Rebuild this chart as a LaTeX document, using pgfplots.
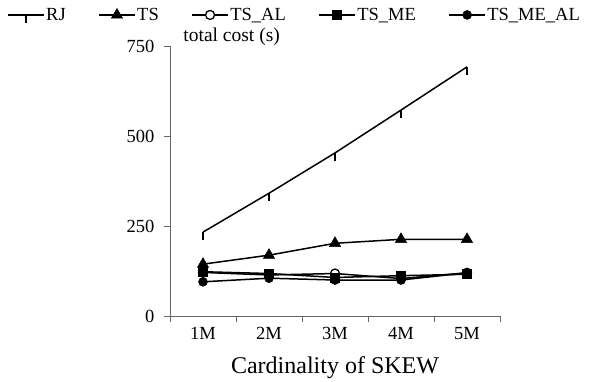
\documentclass[border=0pt]{standalone}
\usepackage{pgfplots}
\pgfplotsset{compat=1.18}
\usepackage{fontspec}
\setmainfont{Liberation Serif}
\pgfdeclareplotmark{dtick}{\pgfpathmoveto{\pgfpointorigin}\pgfpathlineto{\pgfpoint{0pt}{-2\pgfplotmarksize}}\pgfusepathqstroke}
\begin{document}
\begin{tikzpicture}[x=1bp,y=1bp]
\useasboundingbox (0,0) rectangle (613,381);
\begin{axis}[
  at={(170bp,65bp)}, anchor=south west,
  scale only axis, width=330bp, height=270bp,
  xmin=0.5, xmax=5.5, ymin=0, ymax=750,
  axis x line*=bottom, axis y line*=left,
  axis line style={gray!80!black, line width=0.8bp},
  tick style={gray!80!black, line width=0.8bp},
  tick align=outside, major tick length=6bp,
  ytick={0,250,500,750},
  xtick={0.5,1.5,...,5.5}, xticklabels={},
  extra x ticks={1,2,3,4,5},
  extra x tick labels={1M,2M,3M,4M,5M},
  extra x tick style={major tick length=0pt},
  /pgf/number format/assume math mode=true,
  ticklabel style={font=\fontsize{18.5bp}{20bp}\selectfont},
  xticklabel style={yshift=-8bp},
  yticklabel style={xshift=-6bp},
  xlabel={Cardinality of SKEW},
  xlabel style={font=\fontsize{24bp}{26bp}\selectfont, anchor=base, at={(axis description cs:0.5,-0.213)}},
  ylabel={total cost (s)},
  ylabel style={font=\fontsize{19.5bp}{21bp}\selectfont, rotate=-90, anchor=base west, at={(axis description cs:0.03,1.015)}},
  legend columns=5,
  legend style={draw=none, fill=none, at={(axis description cs:-0.494,1.115)}, anchor=west,
    font=\fontsize{18.5bp}{20bp}\selectfont, inner sep=0pt,
    nodes={inner sep=1.5bp},
    /tikz/every even column/.append style={column sep=31bp}},
  legend image code/.code={\draw[mark repeat=2,mark phase=2,#1] plot coordinates {(0bp,0bp) (18bp,0bp) (36bp,0bp)};},
  every axis plot/.append style={black, line width=1.5bp},
]
\addplot[mark=dtick, mark size=4bp, mark options={line width=1.2bp}] coordinates {(1,233) (2,341) (3,453) (4,572) (5,692)};
\addlegendentry{RJ}
\addplot[mark=triangle*, mark size=6.5bp, mark options={line width=0.5bp}] coordinates {(1,144) (2,169) (3,202) (4,213) (5,213)};
\addlegendentry{TS}
\addplot[mark=*, mark size=4.5bp, mark options={fill=white, line width=1.3bp}] coordinates {(1,121) (2,114) (3,118) (4,104) (5,120)};
\addlegendentry{TS\_AL}
\addplot[mark=square*, mark size=4.5bp, mark options={line width=0.5bp}] coordinates {(1,123) (2,118) (3,107) (4,112) (5,116)};
\addlegendentry{TS\_ME}
\addplot[mark=*, mark size=4.5bp, mark options={line width=0.5bp}] coordinates {(1,95) (2,105) (3,100) (4,100) (5,120)};
\addlegendentry{TS\_ME\_AL}
\end{axis}
\end{tikzpicture}
\end{document}
